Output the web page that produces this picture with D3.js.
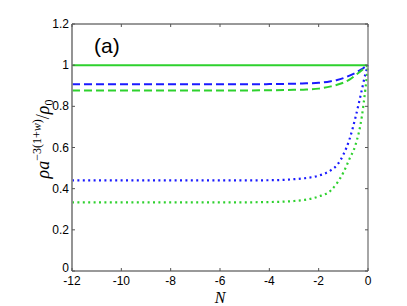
<!DOCTYPE html>
<html>
<head>
<meta charset="utf-8">
<script src="https://cdn.jsdelivr.net/npm/d3@7"></script>
<style>
  body { margin: 0; background: #fff; }
  .sans { font-family: "Liberation Sans", Helvetica, Arial, sans-serif; }
  .math { font-family: "Liberation Serif", "DejaVu Serif", serif; }
</style>
</head>
<body>
<div id="chart"></div>
<script>
// DATA ===========================================================================================
const xTicks = [-12, -10, -8, -6, -4, -2, 0]
const yTicks = [0, 0.2, 0.4, 0.6, 0.8, 1, 1.2]

const nGrid = [-12, -6, -4, -3, -2.5, -2, -1.5, -1.25, -1, -0.75, -0.5, -0.25, -0.1, 0]
const greenSolid  = [1, 1, 1, 1, 1, 1, 1, 1, 1, 1, 1, 1, 1, 1]
const blueDashed  = [0.907, 0.907, 0.908, 0.910, 0.912, 0.914, 0.922, 0.928, 0.937, 0.949, 0.963, 0.981, 0.993, 1]
const greenDashed = [0.877, 0.877, 0.878, 0.880, 0.882, 0.886, 0.897, 0.905, 0.915, 0.930, 0.952, 0.975, 0.990, 1]
const blueDotted  = [0.44, 0.44, 0.441, 0.446, 0.452, 0.463, 0.49, 0.515, 0.565, 0.64, 0.75, 0.88, 0.96, 1]
const greenDotted = [0.333, 0.333, 0.335, 0.34, 0.347, 0.362, 0.392, 0.428, 0.478, 0.545, 0.615, 0.75, 0.89, 1]

const series = [
  {vals: greenSolid,  color: '#2ed12e', dash: null},
  {vals: blueDashed,  color: '#1a1aff', dash: '8,4'},
  {vals: greenDashed, color: '#2ed12e', dash: '8,4'},
  {vals: blueDotted,  color: '#1a1aff', dash: '2,3.4'},
  {vals: greenDotted, color: '#2ed12e', dash: '2,3.4'}
]

// SET UP =========================================================================================
const width = 407, height = 306
const margin = {top: 24, bottom: 35, left: 72, right: 39}
const w = width - margin.left - margin.right
const h = height - margin.top - margin.bottom

const svg = d3.select('#chart').append('svg')
  .attr('width', width).attr('height', height)
const g = svg.append('g')
  .attr('transform', `translate(${margin.left},${margin.top})`)

// SCALES AND AXES ================================================================================
const x = d3.scaleLinear().domain([-12, 0]).range([0, w])
const y = d3.scaleLinear().domain([0, 1.2]).range([h, 0])

// marks first so the box sits on top
const line = d3.line().x((d, i) => x(nGrid[i])).y(d => y(d)).curve(d3.curveMonotoneX)
series.forEach(s => {
  g.append('path')
    .datum(s.vals)
    .attr('fill', 'none')
    .attr('stroke', s.color)
    .attr('stroke-width', s.dash && s.dash.startsWith('2') ? 2.2 : 2)
    .attr('stroke-dasharray', s.dash)
    .attr('d', line)
})

// box
g.append('line').attr('x1', 0).attr('x2', w).attr('y1', 0).attr('y2', 0)
  .attr('stroke', '#333').attr('stroke-width', 1)
g.append('line').attr('x1', w).attr('x2', w).attr('y1', 0).attr('y2', h)
  .attr('stroke', '#888').attr('stroke-width', 1.5)
g.append('line').attr('x1', 0).attr('x2', 0).attr('y1', 0).attr('y2', h)
  .attr('stroke', '#888').attr('stroke-width', 1.8)
g.append('line').attr('x1', 0).attr('x2', w).attr('y1', h).attr('y2', h)
  .attr('stroke', '#777').attr('stroke-width', 1.5)

// ticks (inward)
const tk = 3
xTicks.forEach(t => {
  g.append('line').attr('x1', x(t)).attr('x2', x(t)).attr('y1', h).attr('y2', h - tk).attr('stroke', '#555')
  g.append('line').attr('x1', x(t)).attr('x2', x(t)).attr('y1', 0).attr('y2', tk).attr('stroke', '#555')
  g.append('text').attr('class', 'sans').attr('x', x(t)).attr('y', h + 14)
    .attr('text-anchor', 'middle').attr('font-size', 12).text(t)
})
yTicks.forEach(t => {
  g.append('line').attr('x1', 0).attr('x2', tk).attr('y1', y(t)).attr('y2', y(t)).attr('stroke', '#555')
  g.append('line').attr('x1', w).attr('x2', w - tk).attr('y1', y(t)).attr('y2', y(t)).attr('stroke', '#555')
  g.append('text').attr('class', 'sans').attr('x', -3).attr('y', y(t) + (t === 0 ? 1 : 4))
    .attr('text-anchor', 'end').attr('font-size', 12).text(t)
})

// LABELS =========================================================================================
g.append('text').attr('class', 'sans').attr('x', 22).attr('y', 29).attr('font-size', 21).text('(a)')

svg.append('text').attr('class', 'math')
  .attr('x', margin.left + w / 2).attr('y', 303)
  .attr('text-anchor', 'middle')
  .attr('font-style', 'italic').attr('font-size', 16).text('N')

const yl = svg.append('text').attr('class', 'math')
  .attr('transform', `translate(49,139) rotate(-90)`)
  .attr('text-anchor', 'middle')
  .attr('font-size', 18)
yl.append('tspan').attr('font-style', 'italic').text('ρa')
yl.append('tspan').attr('font-size', 12).attr('dy', -8).text('−3(1+')
yl.append('tspan').attr('font-size', 12).attr('font-style', 'italic').text('w')
yl.append('tspan').attr('font-size', 12).text(')')
yl.append('tspan').attr('dy', 8).text('/')
yl.append('tspan').attr('font-style', 'italic').text('ρ')
yl.append('tspan').attr('font-size', 12).attr('dy', 4).text('0')
</script>
</body>
</html>
